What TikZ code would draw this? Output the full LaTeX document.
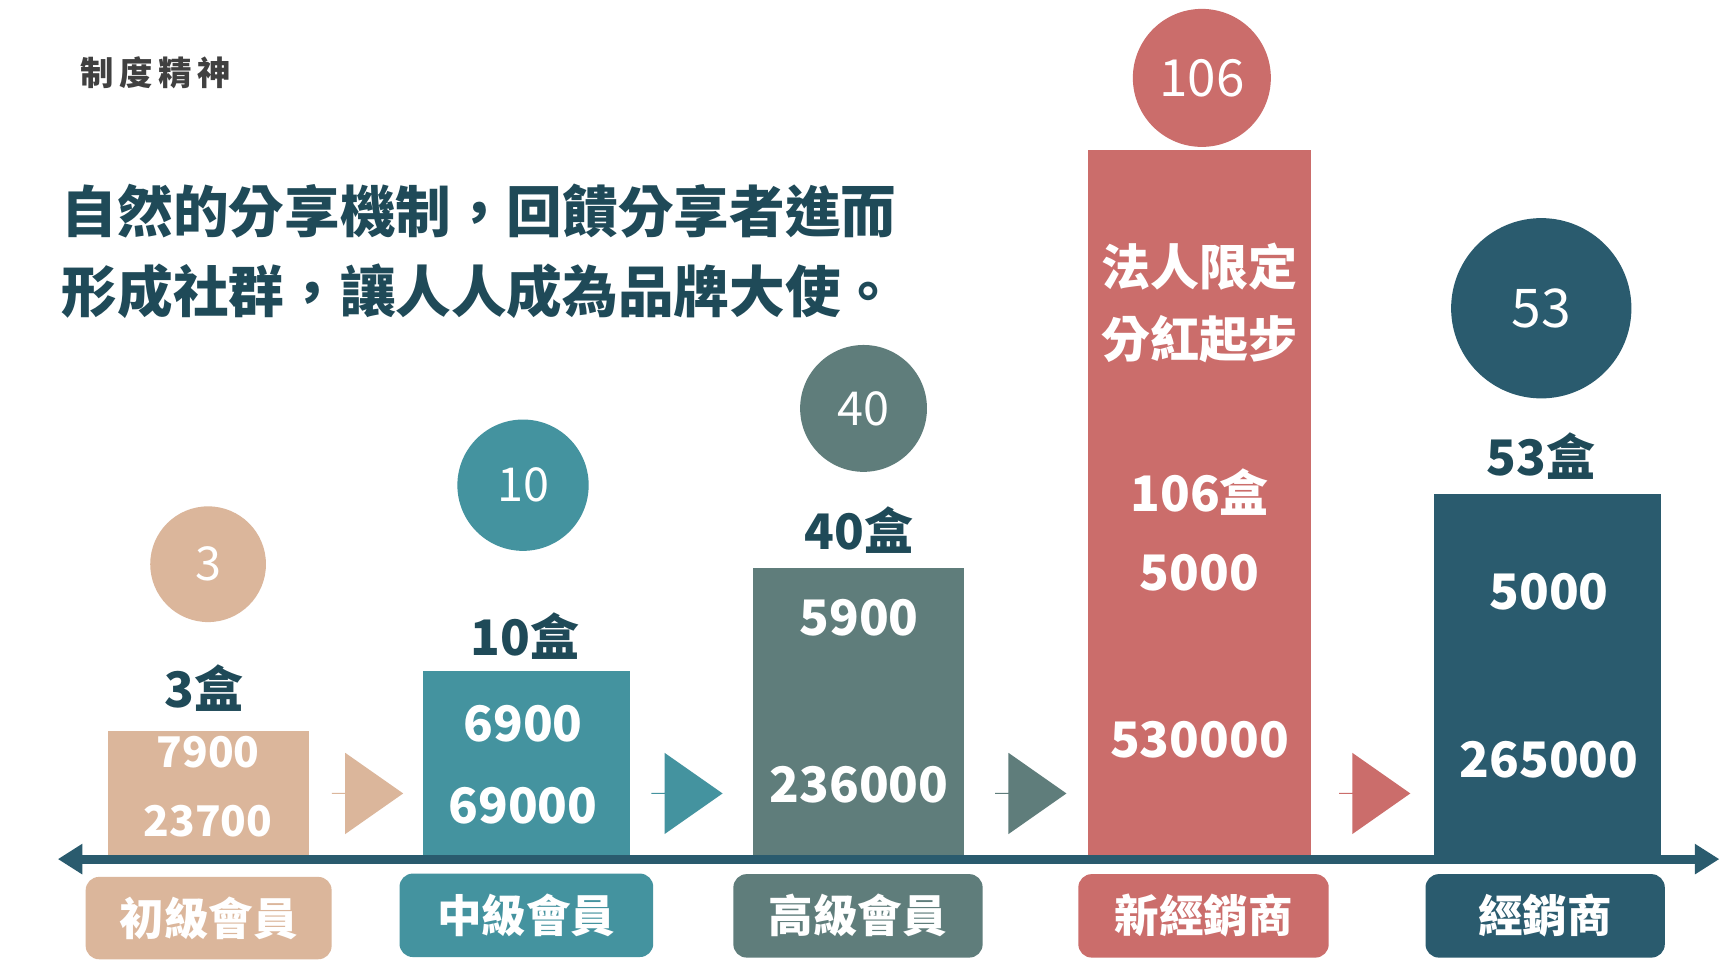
\documentclass[tikz,border=0pt]{standalone}
\usepackage{fontspec}
\setmainfont{Noto Sans CJK TC}
\usetikzlibrary{shapes.arrows,arrows.meta}
\definecolor{ctan}{HTML}{DBB69B}
\definecolor{cteal}{HTML}{44939F}
\definecolor{cgray}{HTML}{5F7D7B}
\definecolor{crose}{HTML}{CB6D6B}
\definecolor{cdark}{HTML}{2A5B6E}
\definecolor{ctitle}{HTML}{1F4A58}
\newcommand{\myfs}[1]{\fontsize{#1}{#1}\selectfont}
\tikzset{
 num/.style={text=white,font=\myfs{44}\bfseries},
 cnt/.style={text=ctitle,font=\myfs{44}\bfseries},
 circ/.style={circle,inner sep=0,text=white,font=\myfs{42}},
 lab/.style={rounded corners=12pt,text=white,font=\myfs{40}\bfseries,inner sep=0},
 blk/.style={single arrow,single arrow head extend=16pt,minimum height=64pt,minimum width=73pt,inner sep=0,draw=none,single arrow tip angle=70},
}
\begin{document}
\begin{tikzpicture}[x=1pt,y=-1pt]
\useasboundingbox (0,0) rectangle (1560,880);
\fill[white] (0,0) rectangle (1560,880);
\node[text=black!75,font=\myfs{30}\bfseries] (hd) at (140,65) {制\,度\,精\,神};
\node[anchor=west,text=ctitle,font=\myfs{50}\bfseries] (t1) at (52,190) {自然的分享機制，回饋分享者進而};
\node[anchor=west,text=ctitle,font=\myfs{50}\bfseries] (t2) at (52,262) {形成社群，讓人人成為品牌大使。};
\fill[ctan] (97,657) rectangle (278,768);
\fill[cteal] (380,603) rectangle (566,768);
\fill[cgray] (677,510) rectangle (866,768);
\fill[crose] (978,135) rectangle (1178,768);
\fill[cdark] (1289,444) rectangle (1493,768);
\node[num,font=\myfs{38}\bfseries] (a1) at (187,676) {7900};
\node[num,font=\myfs{38}\bfseries] (a2) at (187,738) {23700};
\node[num] (b1) at (470,650) {6900};
\node[num] (b2) at (470,724) {69000};
\node[num] (c1) at (772,555) {5900};
\node[num] (c2) at (772,705) {236000};
\node[num] (d1) at (1078,240) {法人限定};
\node[num] (d2) at (1078,305) {分紅起步};
\node[num] (d3) at (1078,442) {106盒};
\node[num] (d4) at (1078,515) {5000};
\node[num] (d5) at (1078,665) {530000};
\node[num] (e1) at (1392,532) {5000};
\node[num] (e2) at (1392,683) {265000};
\node[cnt] (k1) at (183,618) {3盒};
\node[cnt] (k2) at (472,572) {10盒};
\node[cnt] (k3) at (772,476) {40盒};
\node[cnt] (k5) at (1385,410) {53盒};
\node[circ,fill=ctan,minimum size=104pt] (o1) at (187,507) {3};
\node[circ,fill=cteal,minimum size=118pt] (o2) at (470,436) {10};
\node[circ,fill=cgray,minimum size=114pt] (o3) at (776,367) {40};
\node[circ,fill=crose,minimum size=124pt,font=\myfs{46}] (o4) at (1080,70) {106};
\node[circ,fill=cdark,minimum size=162pt,font=\myfs{48}] (o5) at (1385,277) {53};
\coordinate (axl) at (52,772);
\coordinate (axr) at (1545,772);
\draw[cdark,line width=8pt,{Triangle[length=22pt,width=26pt]}-{Triangle[length=22pt,width=26pt]}] (axl) -- (axr);
\node[blk,fill=ctan] (ar1) at (330,713) {};
\node[blk,fill=cteal] (ar2) at (617,713) {};
\node[blk,fill=cgray] (ar3) at (926,713) {};
\node[blk,fill=crose] (ar4) at (1235,713) {};
\node[lab,fill=ctan,minimum width=221pt,minimum height=74pt] (l1) at (187.5,825) {初級會員};
\node[lab,fill=cteal,minimum width=228pt,minimum height=75pt] (l2) at (473,822.5) {中級會員};
\node[lab,fill=cgray,minimum width=224pt,minimum height=75pt] (l3) at (771,823) {高級會員};
\node[lab,fill=crose,minimum width=225pt,minimum height=75pt] (l4) at (1081.5,823) {新經銷商};
\node[lab,fill=cdark,minimum width=215pt,minimum height=75pt] (l5) at (1388.5,823) {經銷商};
\end{tikzpicture}
\end{document}
